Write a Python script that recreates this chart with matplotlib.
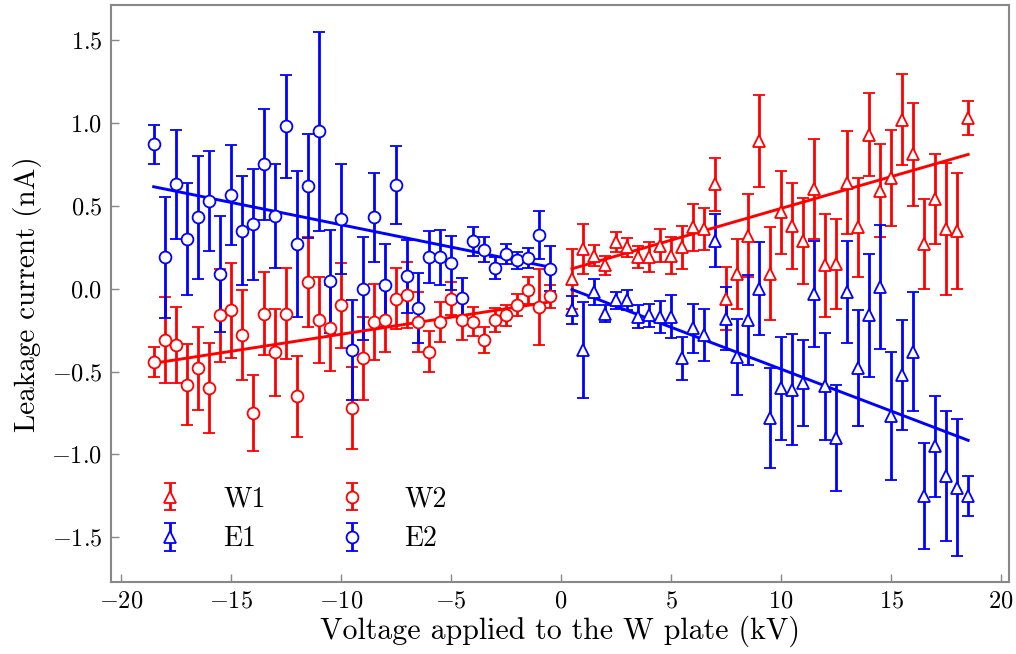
import numpy as np
import matplotlib
matplotlib.use("Agg")
import matplotlib.pyplot as plt

plt.rcParams['font.family'] = 'serif'
plt.rcParams['font.serif'] = ['cmr10']
plt.rcParams['mathtext.fontset'] = 'cm'
plt.rcParams['axes.formatter.use_mathtext'] = True

# voltages (kV)
v_pos = np.arange(0.5, 18.51, 0.5)
v_neg = -v_pos[::-1]

# W1: W plate, positive voltage
W1_y = [0.06, 0.24, 0.20, 0.14, 0.28, 0.25, 0.19, 0.19, 0.26, 0.20, 0.25, 0.37, 0.36,
        0.63, -0.06, 0.09, 0.32, 0.89, 0.09, 0.46, 0.38, 0.29, 0.60, 0.14, 0.15, 0.64,
        0.37, 0.93, 0.59, 0.67, 1.02, 0.81, 0.27, 0.54, 0.36, 0.35, 1.03]
W1_err = [0.18, 0.15, 0.065, 0.057, 0.06, 0.057, 0.068, 0.089, 0.097, 0.11, 0.13, 0.14,
          0.125, 0.16, 0.19, 0.21, 0.25, 0.276, 0.28, 0.25, 0.26, 0.26, 0.30, 0.31, 0.27,
          0.31, 0.30, 0.25, 0.28, 0.29, 0.275, 0.31, 0.27, 0.27, 0.40, 0.35, 0.10]

# E1: E plate, positive voltage
E1_y = [-0.13, -0.37, -0.02, -0.15, -0.07, -0.07, -0.17, -0.16, -0.17, -0.17, -0.42,
        -0.24, -0.28, 0.29, -0.18, -0.41, -0.19, 0.00, -0.78, -0.60, -0.61, -0.57, -0.03,
        -0.59, -0.90, -0.02, -0.48, -0.16, 0.01, -0.77, -0.52, -0.38, -1.25, -0.95, -1.13,
        -1.20, -1.25]
E1_err = [0.085, 0.29, 0.08, 0.05, 0.05, 0.06, 0.07, 0.07, 0.095, 0.13, 0.13, 0.15, 0.155,
          0.16, 0.19, 0.23, 0.27, 0.28, 0.30, 0.31, 0.335, 0.26, 0.32, 0.32, 0.32, 0.31,
          0.35, 0.37, 0.375, 0.385, 0.33, 0.36, 0.32, 0.305, 0.39, 0.415, 0.12]

# W2: W plate, negative voltage (from -18.5 to -0.5)
W2_y = [-0.44, -0.31, -0.34, -0.58, -0.48, -0.60, -0.16, -0.13, -0.28, -0.75, -0.15,
        -0.385, -0.15, -0.65, 0.04, -0.19, -0.235, -0.10, -0.72, -0.42, -0.20, -0.19,
        -0.06, -0.04, -0.20, -0.38, -0.20, -0.06, -0.19, -0.20, -0.31, -0.19, -0.16,
        -0.10, -0.01, -0.11, -0.045]
W2_err = [0.09, 0.26, 0.23, 0.245, 0.25, 0.27, 0.28, 0.287, 0.27, 0.228, 0.25, 0.26, 0.272,
          0.245, 0.27, 0.26, 0.26, 0.257, 0.245, 0.25, 0.23, 0.195, 0.185, 0.2, 0.18, 0.125,
          0.12, 0.1, 0.12, 0.087, 0.08, 0.072, 0.063, 0.067, 0.08, 0.228, 0.07]

# E2: E plate, negative voltage
E2_y = [0.87, 0.19, 0.63, 0.30, 0.43, 0.53, 0.09, 0.565, 0.35, 0.39, 0.75, 0.44, 0.98,
        0.27, 0.62, 0.95, 0.045, 0.42, -0.37, 0.00, 0.43, 0.02, 0.625, 0.075, -0.115, 0.19,
        0.19, 0.155, -0.055, 0.285, 0.235, 0.125, 0.21, 0.17, 0.185, 0.325, 0.12]
E2_err = [0.12, 0.365, 0.33, 0.34, 0.37, 0.30, 0.35, 0.30, 0.33, 0.335, 0.333, 0.314, 0.312,
          0.44, 0.312, 0.60, 0.31, 0.33, 0.30, 0.31, 0.268, 0.25, 0.235, 0.22, 0.21, 0.157,
          0.165, 0.16, 0.12, 0.085, 0.075, 0.065, 0.06, 0.05, 0.06, 0.146, 0.135]

# linear fits (values at the ends of each range)
fit_pos_x = [0.5, 18.5]
fit_neg_x = [-18.5, -0.5]
fit_W1 = [0.12, 0.81]
fit_E1 = [-0.005, -0.915]
fit_W2 = [-0.45, -0.08]
fit_E2 = [0.615, 0.13]

fig = plt.figure(figsize=(10.16, 6.54), dpi=100)
ax = fig.add_axes([0.109, 0.110, 0.884, 0.882])

style = dict(ls='none', ms=8.5, mfc='white', mew=1.3, elinewidth=2.0,
             capsize=4, capthick=1.6)
h_w1 = ax.errorbar(v_pos, W1_y, yerr=W1_err, marker='^', color='red', label='W1', **style)
h_e1 = ax.errorbar(v_pos, E1_y, yerr=E1_err, marker='^', color='blue', label='E1', **style)
h_w2 = ax.errorbar(v_neg, W2_y, yerr=W2_err, marker='o', color='red', label='W2', **style)
h_e2 = ax.errorbar(v_neg, E2_y, yerr=E2_err, marker='o', color='blue', label='E2', **style)

ax.plot(fit_pos_x, fit_W1, color='red', lw=2.1)
ax.plot(fit_pos_x, fit_E1, color='blue', lw=2.1)
ax.plot(fit_neg_x, fit_W2, color='red', lw=2.1)
ax.plot(fit_neg_x, fit_E2, color='blue', lw=2.1)

ax.set_xlim(-20.45, 20.35)
ax.set_ylim(-1.77, 1.71)
ax.set_xticks([-20, -15, -10, -5, 0, 5, 10, 15, 20])
ax.set_yticks([-1.5, -1.0, -0.5, 0.0, 0.5, 1.0, 1.5])
ax.set_yticklabels(['$-1.5$', '$-1.0$', '$-0.5$', '$0.0$', '$0.5$', '$1.0$', '$1.5$'])

for s in ax.spines.values():
    s.set_color('#888888')
    s.set_linewidth(1.5)
ax.tick_params(direction='in', length=6, width=1, color='#888888', labelsize=17.5, pad=6)

ax.set_xlabel('Voltage applied to the W plate (kV)', fontsize=21.5, labelpad=2)
ax.set_ylabel('Leakage current (nA)', fontsize=21, labelpad=7)

ax.legend(handles=[h_w1, h_e1, h_w2, h_e2], ncol=2, loc='lower left',
          bbox_to_anchor=(0.02, 0.008), frameon=False, fontsize=20,
          handlelength=1.2, handletextpad=1.3, columnspacing=2.5, labelspacing=0.5)

fig.savefig('out.png', dpi=100)
